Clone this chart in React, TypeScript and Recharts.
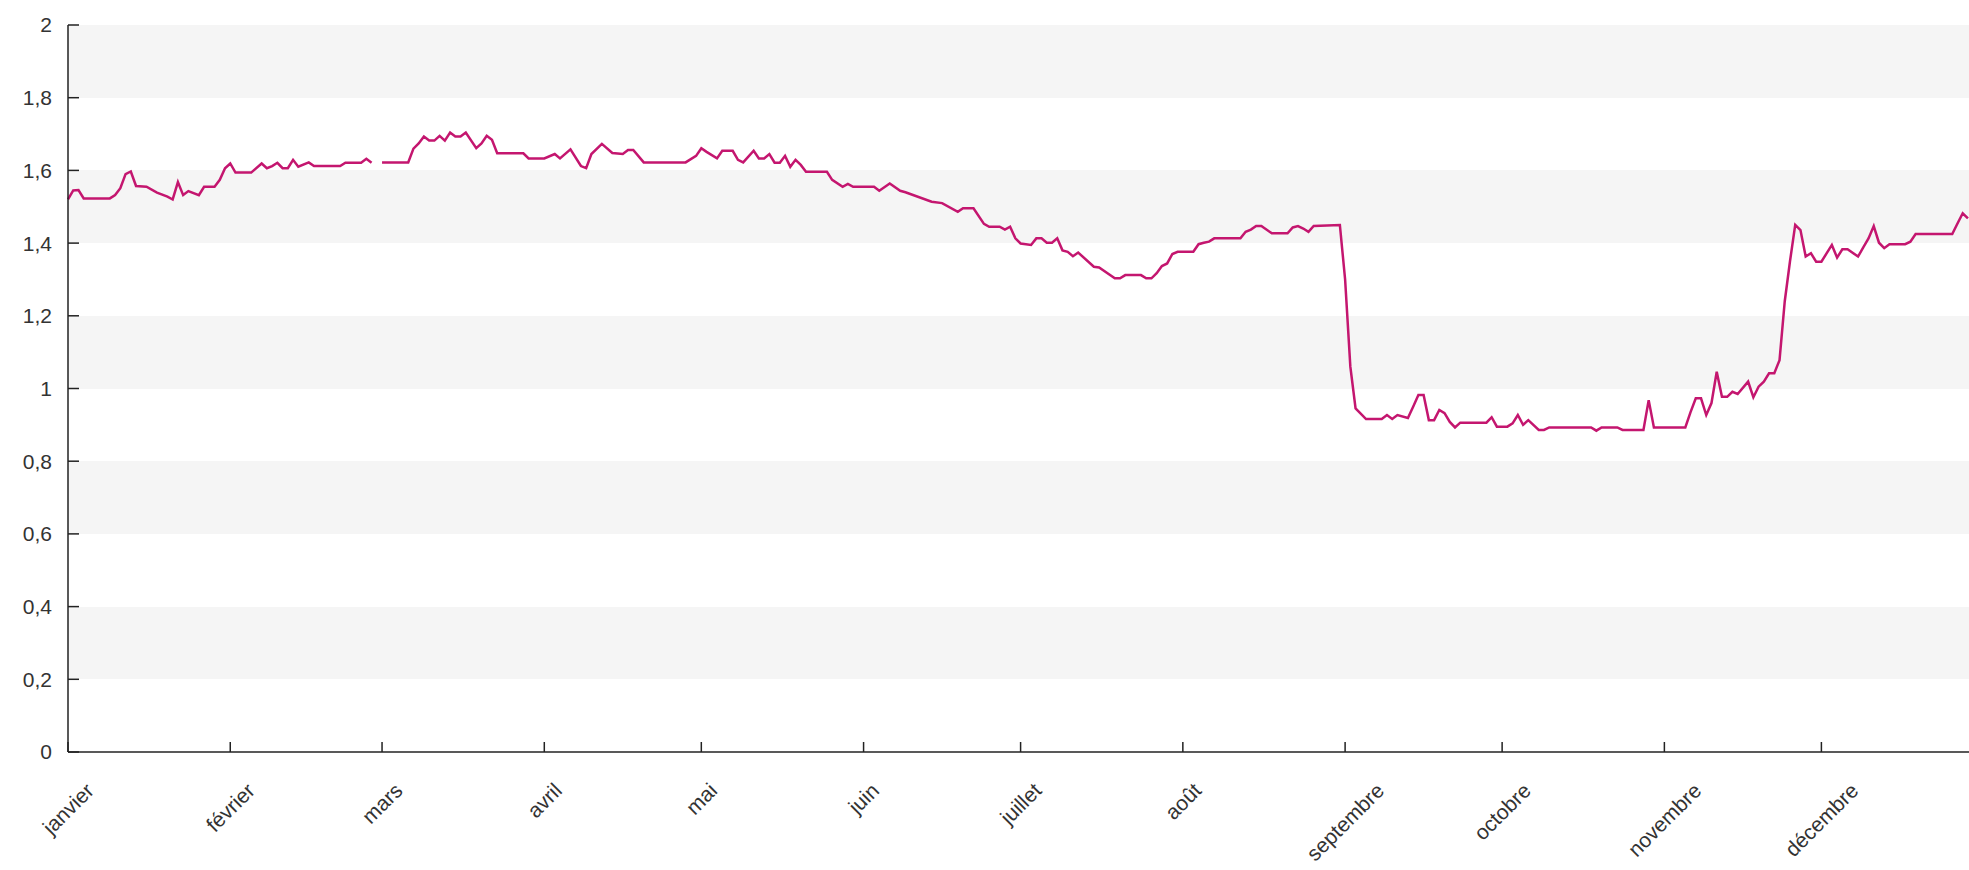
import { LineChart, Line, XAxis, YAxis, CartesianGrid } from "recharts";

// jour de l'année (année bissextile, 0 = 1er janvier) et valeur
const janvier: [number, number][] = [
  [0, 1.52], [1, 1.545], [2, 1.546], [3, 1.523], [8, 1.523], [9, 1.532],
  [10, 1.551], [11, 1.59], [12, 1.597], [13, 1.557], [15, 1.555], [17, 1.539],
  [19, 1.528], [20, 1.52], [21, 1.568], [22, 1.532], [23, 1.543], [25, 1.532],
  [26, 1.555], [28, 1.555], [29, 1.574], [30, 1.606],
];
const fevrier: [number, number | null][] = [
  [31, 1.619], [32, 1.594], [35, 1.594], [37, 1.619], [38, 1.606], [39, 1.612],
  [40, 1.621], [41, 1.606], [42, 1.606], [43, 1.629], [44, 1.61], [46, 1.622],
  [47, 1.612], [52, 1.612], [53, 1.621], [56, 1.621], [57, 1.632], [58, 1.621],
  [59, null],
];
const mars: [number, number][] = [
  [60, 1.622], [65, 1.622], [66, 1.66], [67, 1.674], [68, 1.693], [69, 1.682],
  [70, 1.682], [71, 1.695], [72, 1.682], [73, 1.704], [74, 1.693], [75, 1.693],
  [76, 1.704], [78, 1.661], [79, 1.674], [80, 1.695], [81, 1.684], [82, 1.647],
  [87, 1.647], [88, 1.633],
];
const avril: [number, number][] = [
  [91, 1.633], [93, 1.645], [94, 1.633], [96, 1.658], [98, 1.612], [99, 1.606],
  [100, 1.645], [102, 1.673], [104, 1.648], [106, 1.645], [107, 1.656],
  [108, 1.656], [110, 1.622], [118, 1.622], [120, 1.64],
];
const mai: [number, number][] = [
  [121, 1.661], [122, 1.651], [124, 1.633], [125, 1.654], [127, 1.654],
  [128, 1.629], [129, 1.622], [131, 1.654], [132, 1.633], [133, 1.633],
  [134, 1.645], [135, 1.621], [136, 1.621], [137, 1.64], [138, 1.61],
  [139, 1.629], [140, 1.615], [141, 1.596], [145, 1.596], [146, 1.574],
  [148, 1.555], [149, 1.563], [150, 1.555],
];
const juin: [number, number][] = [
  [154, 1.555], [155, 1.544], [157, 1.564], [159, 1.544], [160, 1.54],
  [165, 1.514], [167, 1.51], [170, 1.486], [171, 1.496], [173, 1.496],
  [175, 1.453], [176, 1.445], [178, 1.445], [179, 1.437], [180, 1.445],
  [181, 1.413],
];
const juillet: [number, number][] = [
  [182, 1.399], [184, 1.395], [185, 1.413], [186, 1.413], [187, 1.401],
  [188, 1.401], [189, 1.413], [190, 1.38], [191, 1.376], [192, 1.364],
  [193, 1.374], [196, 1.335], [197, 1.333], [200, 1.303], [201, 1.303],
  [202, 1.312], [205, 1.312], [206, 1.303], [207, 1.303], [208, 1.317],
  [209, 1.337], [210, 1.344], [211, 1.37], [212, 1.376],
];
const aout: [number, number][] = [
  [215, 1.376], [216, 1.397], [217, 1.401], [218, 1.404], [219, 1.413],
  [224, 1.413], [225, 1.431], [226, 1.437], [227, 1.447], [228, 1.447],
  [230, 1.427], [233, 1.427], [234, 1.443], [235, 1.447], [236, 1.44],
  [237, 1.431], [238, 1.447], [243, 1.45],
];
const septembre: [number, number][] = [
  [244, 1.3], [245, 1.06], [246, 0.945], [248, 0.916], [251, 0.916],
  [252, 0.927], [253, 0.916], [254, 0.927], [256, 0.919], [257, 0.95],
  [258, 0.982], [259, 0.982], [260, 0.913], [261, 0.913], [262, 0.941],
  [263, 0.932], [264, 0.908], [265, 0.893], [266, 0.906], [271, 0.906],
  [272, 0.921], [273, 0.895],
];
const octobre: [number, number][] = [
  [275, 0.895], [276, 0.904], [277, 0.927], [278, 0.9], [279, 0.913],
  [281, 0.886], [282, 0.886], [283, 0.893], [291, 0.893], [292, 0.884],
  [293, 0.893], [296, 0.893], [297, 0.886], [301, 0.886], [302, 0.968],
  [303, 0.893],
];
const novembre: [number, number][] = [
  [309, 0.893], [310, 0.935], [311, 0.973], [312, 0.973], [313, 0.927],
  [314, 0.96], [315, 1.046], [316, 0.977], [317, 0.977], [318, 0.991],
  [319, 0.985], [321, 1.019], [322, 0.976], [323, 1.005], [324, 1.019],
  [325, 1.042], [326, 1.042], [327, 1.078], [328, 1.24], [329, 1.35],
  [330, 1.45], [331, 1.436], [332, 1.363], [333, 1.372], [334, 1.349],
];
const decembre: [number, number][] = [
  [335, 1.349], [337, 1.395], [338, 1.36], [339, 1.383], [340, 1.383],
  [342, 1.363], [343, 1.388], [344, 1.413], [345, 1.447], [346, 1.401],
  [347, 1.386], [348, 1.397], [351, 1.397], [352, 1.404], [353, 1.425],
  [360, 1.425], [361, 1.454], [362, 1.482], [363, 1.468],
];

const monthStarts = [0, 31, 60, 91, 121, 152, 182, 213, 244, 274, 305, 335];
const monthLabels = [
  "janvier", "février", "mars", "avril", "mai", "juin",
  "juillet", "août", "septembre", "octobre", "novembre", "décembre",
];
const yTicks = [0, 0.2, 0.4, 0.6, 0.8, 1, 1.2, 1.4, 1.6, 1.8, 2];

const data = [
  ...janvier, ...fevrier, ...mars, ...avril, ...mai, ...juin,
  ...juillet, ...aout, ...septembre, ...octobre, ...novembre, ...decembre,
].map(([day, value]) => ({ day, value }));

const FONT = "'Liberation Sans', Arial, sans-serif";
const FONT_SIZE = 21;

let ctx: CanvasRenderingContext2D | null = null;
function measure(s: string) {
  if (!ctx) ctx = document.createElement("canvas").getContext("2d");
  if (!ctx) return s.length * FONT_SIZE * 0.5;
  ctx.font = `${FONT_SIZE}px 'Liberation Sans', Arial, sans-serif`;
  return ctx.measureText(s).width;
}

function MonthTick(props: any) {
  const { x, y, payload } = props;
  const label = monthLabels[monthStarts.indexOf(payload.value)] ?? "";
  const ext = (measure(label) + FONT_SIZE * 0.9) / Math.SQRT2;
  const cy = y + ext / 2;
  return (
    <text
      x={x}
      y={cy}
      transform={`rotate(-45 ${x} ${cy})`}
      textAnchor="middle"
      dominantBaseline="central"
      fontSize={FONT_SIZE}
      fontFamily={FONT}
      fill="#333"
    >
      {label}
    </text>
  );
}

const fmt = (v: number) => String(Math.round(v * 10) / 10).replace(".", ",");

export default function App() {
  return (
    <div style={{ position: "absolute", left: 0, top: 0, background: "#fff" }}>
      <LineChart
        width={1969}
        height={870}
        data={data}
        margin={{ top: 25, right: 0, bottom: 0, left: 0 }}
      >
        <CartesianGrid
          vertical={false}
          stroke="none"
          horizontalFill={["#f5f5f5", "#ffffff"]}
        />
        <XAxis
          dataKey="day"
          type="number"
          domain={[0, 363.2]}
          ticks={monthStarts}
          interval={0}
          height={118}
          tickSize={-10}
          tickMargin={38}
          tick={<MonthTick />}
          axisLine={{ stroke: "#222", strokeWidth: 1.5 }}
          tickLine={{ stroke: "#222", strokeWidth: 1.5 }}
        />
        <YAxis
          type="number"
          domain={[0, 2]}
          ticks={yTicks}
          interval={0}
          width={68}
          tickSize={-11}
          tickMargin={27}
          tickFormatter={fmt}
          tick={{ fontSize: FONT_SIZE, fontFamily: FONT, fill: "#333" }}
          axisLine={{ stroke: "#222", strokeWidth: 1.5 }}
          tickLine={{ stroke: "#222", strokeWidth: 1.5 }}
        />
        <Line
          dataKey="value"
          type="linear"
          stroke="#c4166f"
          strokeWidth={2.5}
          dot={false}
          activeDot={false}
          connectNulls={false}
          isAnimationActive={false}
        />
      </LineChart>
    </div>
  );
}
